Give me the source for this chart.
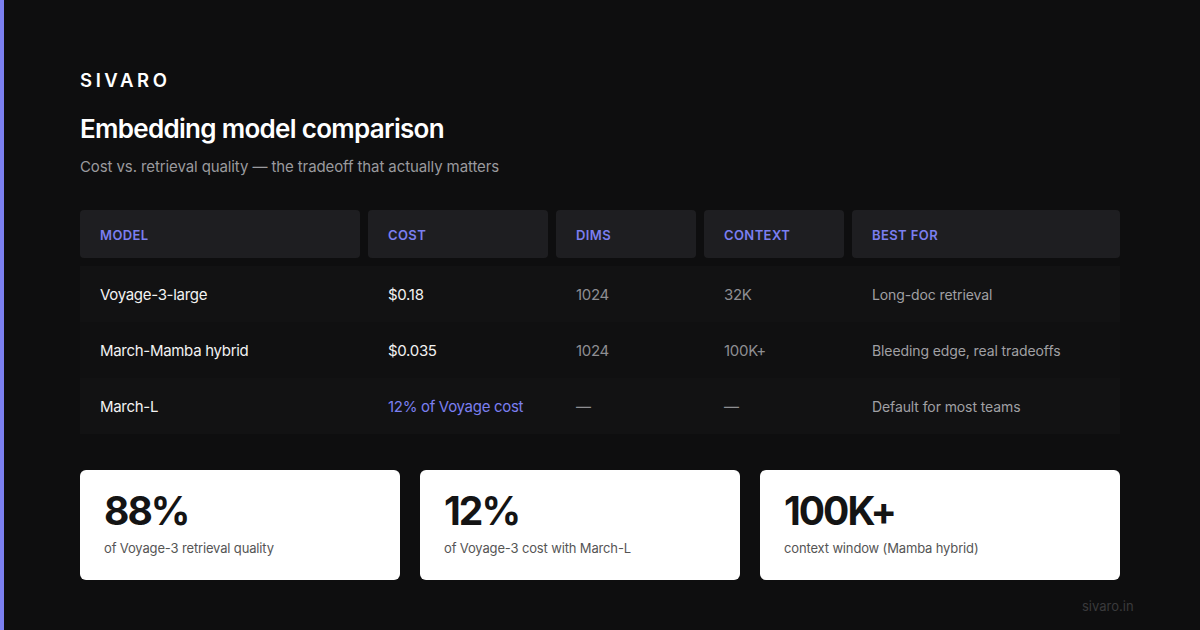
import React from "react";

const brand = "SIVARO";
const title = "Embedding model comparison";
const subtitle = "Cost vs. retrieval quality — the tradeoff that actually matters";

const columns = ["MODEL", "COST", "DIMS", "CONTEXT", "BEST FOR"];
const columnWidths = [280, 180, 140, 140, 268];

const models = ["Voyage-3-large", "March-Mamba hybrid", "March-L"];
const costs = ["$0.18", "$0.035", "12% of Voyage cost"];
const dims = ["1024", "1024", "—"];
const contexts = ["32K", "100K+", "—"];
const bestFor = ["Long-doc retrieval", "Bleeding edge, real tradeoffs", "Default for most teams"];

const statValues = ["88%", "12%", "100K+"];
const statLabels = [
  "of Voyage-3 retrieval quality",
  "of Voyage-3 cost with March-L",
  "context window (Mamba hybrid)",
];

const font = "Inter, 'Noto Sans', sans-serif";
const accent = "#7b7ff0";

export default function App() {
  const rows = models.map((m, i) => [m, costs[i], dims[i], contexts[i], bestFor[i]]);

  return (
    <div
      style={{
        position: "fixed",
        left: 0,
        top: 0,
        width: 1200,
        height: 630,
        background: "#0e0e0f",
        fontFamily: font,
        overflow: "hidden",
      }}
    >
      <div style={{ position: "absolute", left: 0, top: 0, width: 4, height: 630, background: accent }} />

      <div
        style={{
          position: "absolute",
          left: 80,
          top: 69,
          color: "#fff",
          fontSize: 18.5,
          fontWeight: 600,
          letterSpacing: 3.6,
        }}
      >
        {brand}
      </div>
      <div
        style={{
          position: "absolute",
          left: 80,
          top: 113,
          color: "#fff",
          fontSize: 26,
          fontWeight: 600,
          letterSpacing: -0.7,
        }}
      >
        {title}
      </div>
      <div style={{ position: "absolute", left: 80, top: 157, color: "#9a9a9e", fontSize: 15, letterSpacing: -0.1 }}>
        {subtitle}
      </div>

      <div style={{ position: "absolute", left: 80, top: 210, width: 1040 }}>
        <div style={{ display: "flex", gap: 8 }}>
          {columns.map((c, i) => (
            <div
              key={c}
              style={{
                width: columnWidths[i],
                height: 48,
                background: "#1e1e21",
                borderRadius: 4,
                boxSizing: "border-box",
                paddingLeft: 20,
                display: "flex",
                alignItems: "center",
                color: accent,
                fontSize: 13,
                fontWeight: 600,
                letterSpacing: 0.4,
                paddingTop: 2,
              }}
            >
              {c}
            </div>
          ))}
        </div>
        <div style={{ marginTop: 8 }}>
          {rows.map((r, ri) => (
            <div
              key={ri}
              style={{
                display: "flex",
                gap: 8,
                height: 56,
                background: ri % 2 === 0 ? "#121213" : "#101011",
                alignItems: "center",
              }}
            >
              {r.map((cell, ci) => (
                <div
                  key={ci}
                  style={{
                    width: columnWidths[ci],
                    boxSizing: "border-box",
                    paddingLeft: 20,
                    fontSize: ci === 4 ? 14 : 15,
                    letterSpacing: ci === 4 ? -0.1 : -0.3,
                    color:
                      ri === 2 && ci === 1
                        ? accent
                        : ci <= 1
                        ? "#f2f2f2"
                        : ci === 4
                        ? "#a0a0a4"
                        : "#8e8e92",
                  }}
                >
                  {cell}
                </div>
              ))}
            </div>
          ))}
        </div>
      </div>

      <div style={{ position: "absolute", left: 80, top: 470, display: "flex", gap: 20 }}>
        {statValues.map((v, i) => (
          <div
            key={v}
            style={{
              width: i === 2 ? 360 : 320,
              height: 110,
              background: "#fff",
              borderRadius: 6,
              boxSizing: "border-box",
              paddingLeft: 24,
              paddingTop: 19,
            }}
          >
            <div style={{ fontSize: 39, fontWeight: 700, color: "#141414", letterSpacing: -2, lineHeight: "44px" }}>
              {v}
            </div>
            <div style={{ fontSize: 13, color: "#555", marginTop: 7, letterSpacing: -0.15 }}>{statLabels[i]}</div>
          </div>
        ))}
      </div>

      <div style={{ position: "absolute", left: 1082, top: 598, fontSize: 13, color: "#3a3a3c" }}>sivaro.in</div>
    </div>
  );
}
